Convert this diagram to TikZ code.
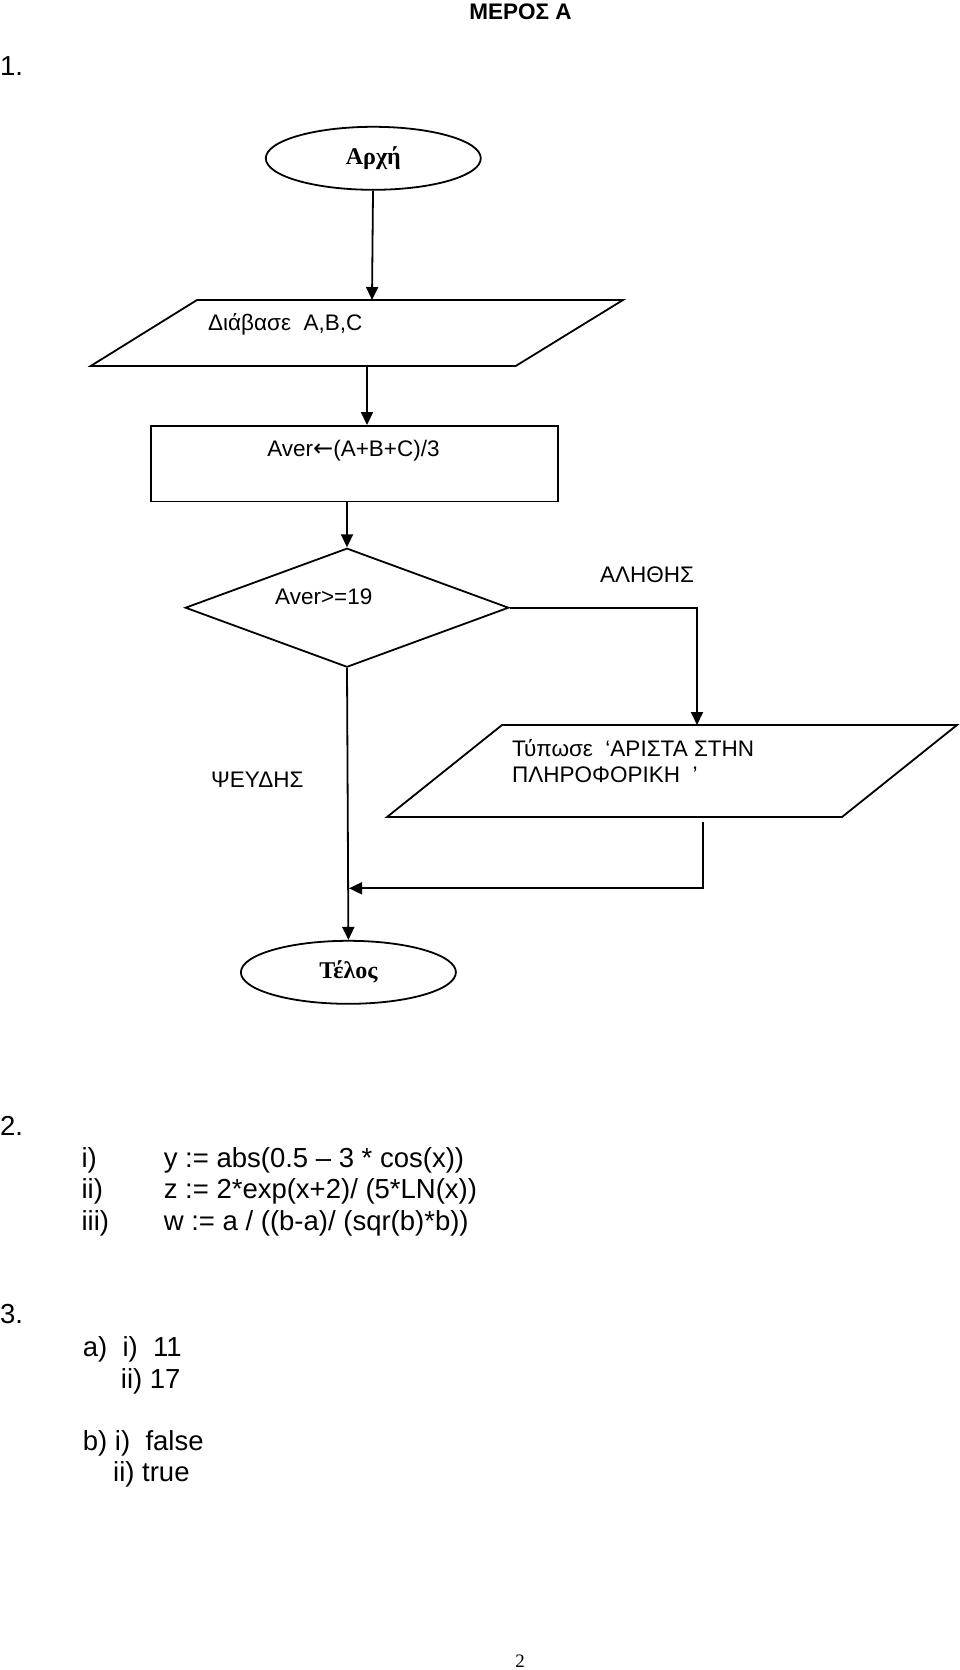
\documentclass[tikz,border=0pt]{standalone}
\usepackage{fontspec}
\setmainfont{Liberation Sans}
\newfontfamily\headserif{Liberation Serif}
\newfontfamily\arrowfont{DejaVu Sans}
\usepackage{tikz}
\usetikzlibrary{arrows.meta}
\usetikzlibrary{shapes.geometric}
\newcommand\chartfont{\fontsize{22.5}{26.7}\selectfont}
\newcommand\bodyfont{\fontsize{27.5}{31}\selectfont}
\newcommand\termfont{\headserif\bfseries\fontsize{24}{28}\selectfont}
\tikzset{
 flow/.style = {-{Triangle[length=13pt,width=12pt]}, line width=1.8pt},
 term/.style = {ellipse, draw, line width=1.8pt, minimum width=215pt, minimum height=63pt, inner sep=0pt, font=\termfont},
 procbox/.style = {rectangle, draw, line width=1.8pt, minimum width=407pt, minimum height=75.5pt, inner sep=0pt},
 decision/.style = {diamond, draw, line width=1.8pt, minimum width=323.5pt, minimum height=119pt, inner sep=0pt},
 iobox/.style = {line width=1.8pt, line join=miter},
 txt/.style = {inner sep=0pt, anchor=base west, font=\chartfont},
 body/.style = {inner sep=0pt, anchor=base west, font=\bodyfont}
}

\begin{document}
\begin{tikzpicture}[x=1pt, y=-1pt]
 \useasboundingbox (0,0) rectangle (960,1670);
 \node [txt, anchor=base, font=\chartfont\bfseries] (title) at (520.5,19.3) {ΜΕΡΟΣ Α};
 \node [body] (q1) at (0,76) {1.};

 \node [term] (start) at (373.3,158.3) {Αρχή};

 \coordinate (rd1) at (90.7,366);
 \coordinate (rd2) at (197,300);
 \coordinate (rd3) at (623,300);
 \coordinate (rd4) at (515.7,366);
 \draw [iobox] (rd1) -- (rd2) -- (rd3) -- (rd4) -- cycle;
 \node [txt] (readtxt) at (208,330.7) {Διάβασε\ \ A,B,C};
 \coordinate (rdin) at (372,300);
 \coordinate (rdout) at (367,366);

 \node [procbox] (calc) at (354.5,463.7) {};
 \node [txt, anchor=base] (calctxt) at (353.5,456.7) {Aver{\arrowfont\fontsize{24}{26}\selectfont ←}(A+B+C)/3};

 \node [decision] (test) at (347,607.7) {};
 \node [txt] (testtxt) at (275,604) {Aver>=19};
 \node [txt] (yes) at (600,582.3) {ΑΛΗΘΗΣ};
 \node [txt] (no) at (211,787.3) {ΨΕΥΔΗΣ};

 \coordinate (pr1) at (387,817);
 \coordinate (pr2) at (502,725);
 \coordinate (pr3) at (957,725);
 \coordinate (pr4) at (842,817);
 \draw [iobox] (pr1) -- (pr2) -- (pr3) -- (pr4) -- cycle;
 \node [txt] (prtxt1) at (512,756) {Τύπωσε\ \ ‘ΑΡΙΣΤΑ ΣΤΗΝ};
 \node [txt] (prtxt2) at (512,782.7) {ΠΛΗΡΟΦΟΡΙΚΗ\ \ ’};
 \coordinate (prin) at (697,725);
 \coordinate (prout) at (703,821.7);

 \node [term] (stop) at (348.4,972.3) {Τέλος};
 \coordinate (join) at (349,888.3);

 \draw [flow] (start) to (rdin);
 \draw [flow] (rdout) to (rdout |- calc.north);
 \draw [flow] (calc.south -| test.north) to (test.north);
 \draw [flow] (test.east) -| (prin);
 \draw [flow] (test.south) to (stop.north);
 \draw [flow] (prout) |- (join);

 \node [body] (q2) at (0,1135) {2.};
 \node [body] (r1) at (81.4,1167) {i)};
 \node [body] (e1) at (163.6,1167) {y := abs(0.5 – 3 * cos(x))};
 \node [body] (r2) at (81.4,1198.5) {ii)};
 \node [body] (e2) at (163.6,1198.5) {z := 2*exp(x+2)/ (5*LN(x))};
 \node [body] (r3) at (81.4,1230) {iii)};
 \node [body] (e3) at (163.6,1230) {w := a / ((b-a)/ (sqr(b)*b))};

 \node [body] (q3) at (0,1323) {3.};
 \node [body] (a1) at (82.7,1356.7) {a)\ \ i)\ \ 11};
 \node [body] (a2) at (120.7,1388) {ii) 17};
 \node [body] (b1) at (82.7,1450) {b) i)\ \ false};
 \node [body] (b2) at (113,1481.7) {ii) true};

 \node [inner sep=0pt, anchor=base, font=\headserif\fontsize{19}{22}\selectfont] (page) at (520,1667) {2};
\end{tikzpicture}
\end{document}
